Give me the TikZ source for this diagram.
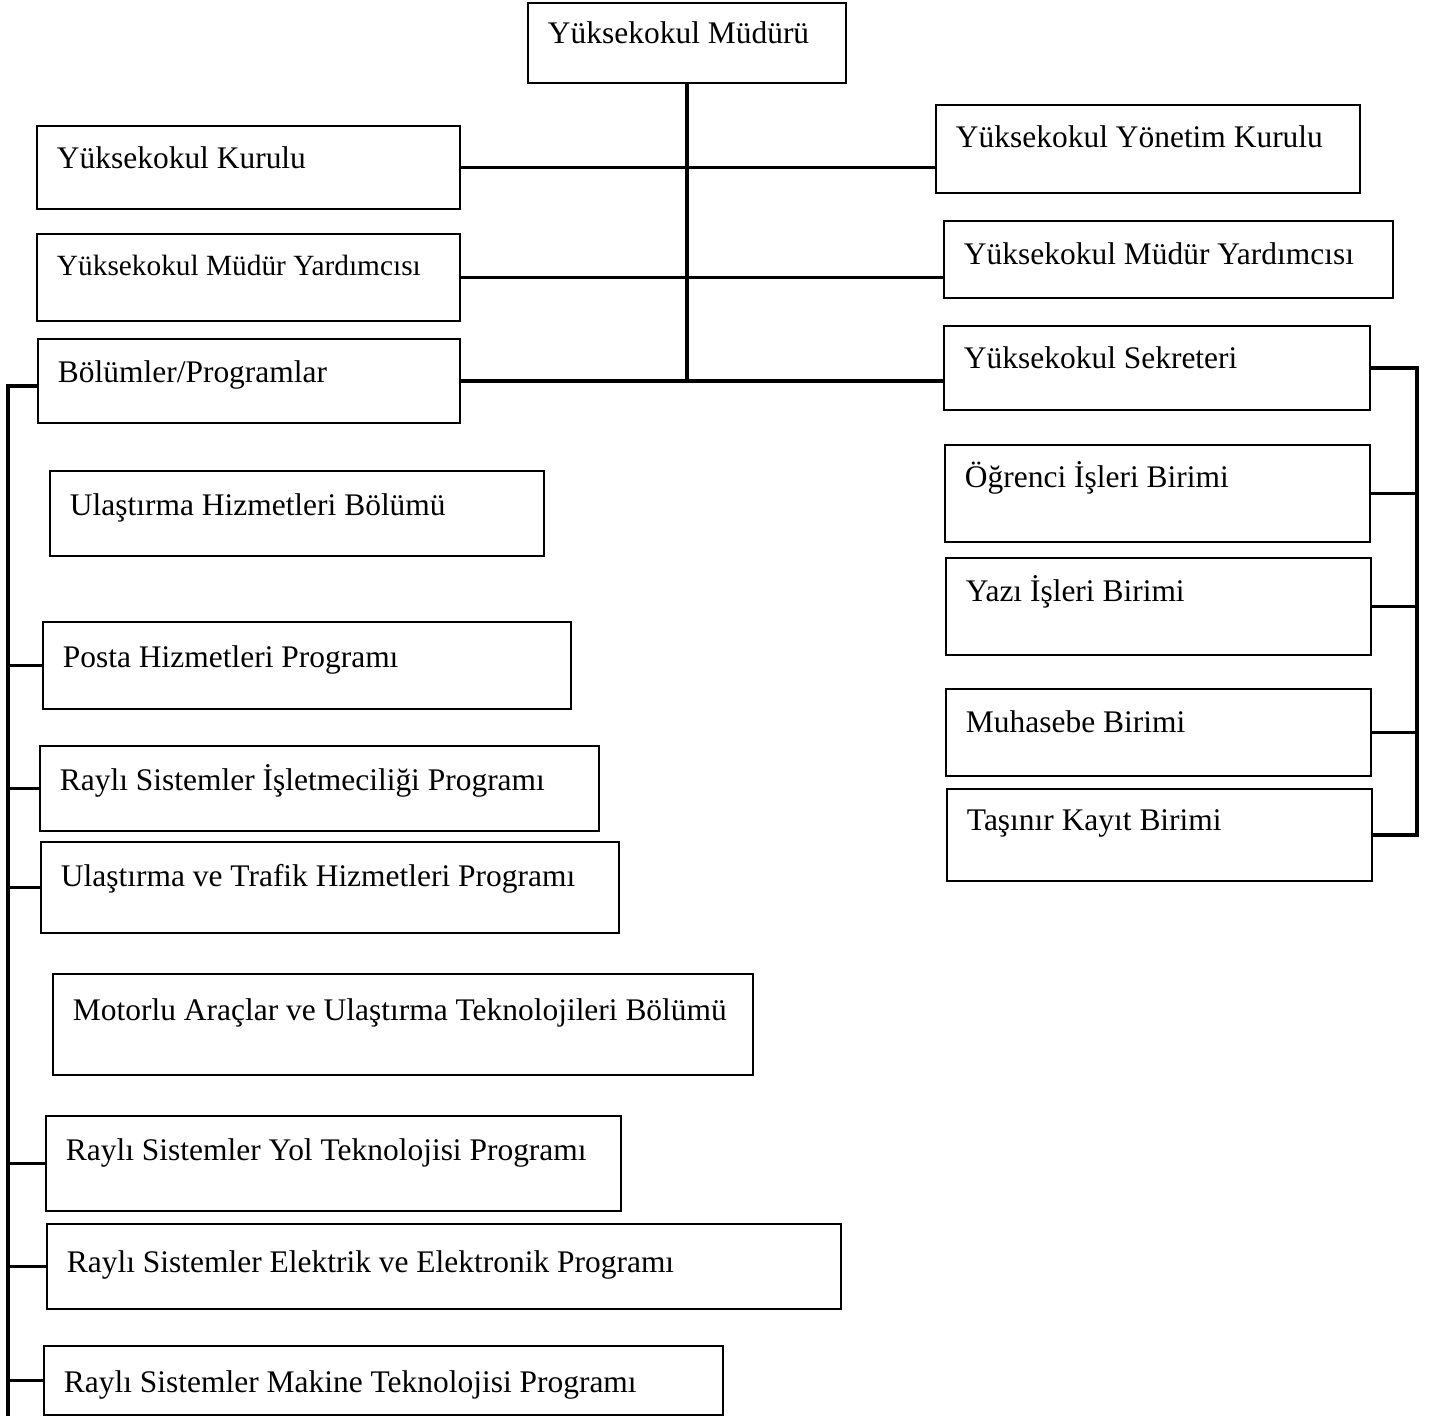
\documentclass[tikz,border=0pt]{standalone}
\usepackage{fontspec}
\setmainfont{Liberation Serif}
\usepackage{tikz}
\usetikzlibrary{calc}

\tikzset{
  birim/.style n args={3}{draw, line width=1.1pt, anchor=north west,
    inner xsep=0.4cm, inner ysep=0pt,
    font=\fontsize{17.9}{21}\selectfont,
    execute at begin node={\hbox to #1cm\bgroup},
    execute at end node={\hfil\egroup},
    text height=#2cm, text depth=#3cm},
  hat/.style={line width=2.2pt}
}

\begin{document}
\begin{tikzpicture}
            \useasboundingbox (0,0) rectangle (28.84,-28.32);

            % Mudur
            \node[birim={5.56}{0.82}{0.78}] (mudur) at (10.54,-0.04) {Yüksekokul Müdürü};

            % left column
            \node[birim={7.66}{0.86}{0.80}] (kurul) at (0.72,-2.50) {Yüksekokul Kurulu};
            \node[birim={7.66}{0.84}{0.90}, font=\fontsize{16.7}{19}\selectfont] (lmyrd) at (0.72,-4.66) {Yüksekokul Müdür Yardımcısı};
            \node[birim={7.64}{0.88}{0.80}] (bolum) at (0.74,-6.76) {Bölümler/Programlar};

            \node[birim={9.08}{0.90}{0.80}] (uhb) at (0.98,-9.40) {Ulaştırma Hizmetleri Bölümü};
            \node[birim={9.76}{0.92}{0.82}] (posta) at (0.84,-12.42) {Posta Hizmetleri Programı};
            \node[birim={10.38}{0.90}{0.80}] (rsi) at (0.78,-14.90) {Raylı Sistemler İşletmeciliği Programı};
            \node[birim={10.76}{0.90}{0.92}] (utr) at (0.80,-16.82) {Ulaştırma ve Trafik Hizmetleri Programı};
            \node[birim={13.20}{0.94}{1.08}] (mot) at (1.04,-19.46) {Motorlu Araçlar ve Ulaştırma Teknolojileri Bölümü};
            \node[birim={10.70}{0.90}{1.00}] (yol) at (0.90,-22.30) {Raylı Sistemler Yol Teknolojisi Programı};
            \node[birim={15.08}{0.98}{0.72}] (elk) at (0.92,-24.46) {Raylı Sistemler Elektrik ve Elektronik Programı};
            \node[birim={12.78}{0.94}{0.44}] (mak) at (0.86,-26.90) {Raylı Sistemler Makine Teknolojisi Programı};

            % right column
            \node[birim={7.68}{0.86}{0.90}] (yk) at (18.70,-2.08) {Yüksekokul Yönetim Kurulu};
            \node[birim={8.18}{0.88}{0.66}] (rmyrd) at (18.86,-4.40) {Yüksekokul Müdür Yardımcısı};
            \node[birim={7.72}{0.86}{0.82}] (sek) at (18.86,-6.50) {Yüksekokul Sekreteri};
            \node[birim={7.70}{0.86}{1.08}] (ogr) at (18.88,-8.88) {Öğrenci İşleri Birimi};
            \node[birim={7.70}{0.88}{1.06}] (yazi) at (18.90,-11.14) {Yazı İşleri Birimi};
            \node[birim={7.70}{0.88}{0.86}] (muh) at (18.90,-13.76) {Muhasebe Birimi};
            \node[birim={7.70}{0.84}{1.00}] (tas) at (18.92,-15.76) {Taşınır Kayıt Birimi};

            % bus lines
            \coordinate (solalt) at (0.16,-28.32);
            \coordinate (sag) at (28.34,0);

            % trunk from Mudur
            \draw[hat] (mudur.south) -- (mudur.south |- bolum.east);
            \draw[hat] (kurul.east) -- (yk.west |- kurul.east);
            \draw[hat] (lmyrd.east) -- (rmyrd.west |- lmyrd.east);
            \draw[hat] (bolum.east) -- (sek.west |- bolum.east);

            % left side
            \draw[hat] ($(bolum.west)+(0,-0.10)$) -| (solalt);
            \foreach \p in {posta,rsi,utr,yol,elk,mak}
                \draw[hat] (\p.west) -- (\p.west -| solalt);

            % right side
            \draw[hat] (sek.east) -| (tas.east -| sag) -- (tas.east);
            \foreach \b in {ogr,yazi,muh}
                \draw[hat] (\b.east) -- (\b.east -| sag);
        \end{tikzpicture}
\end{document}
